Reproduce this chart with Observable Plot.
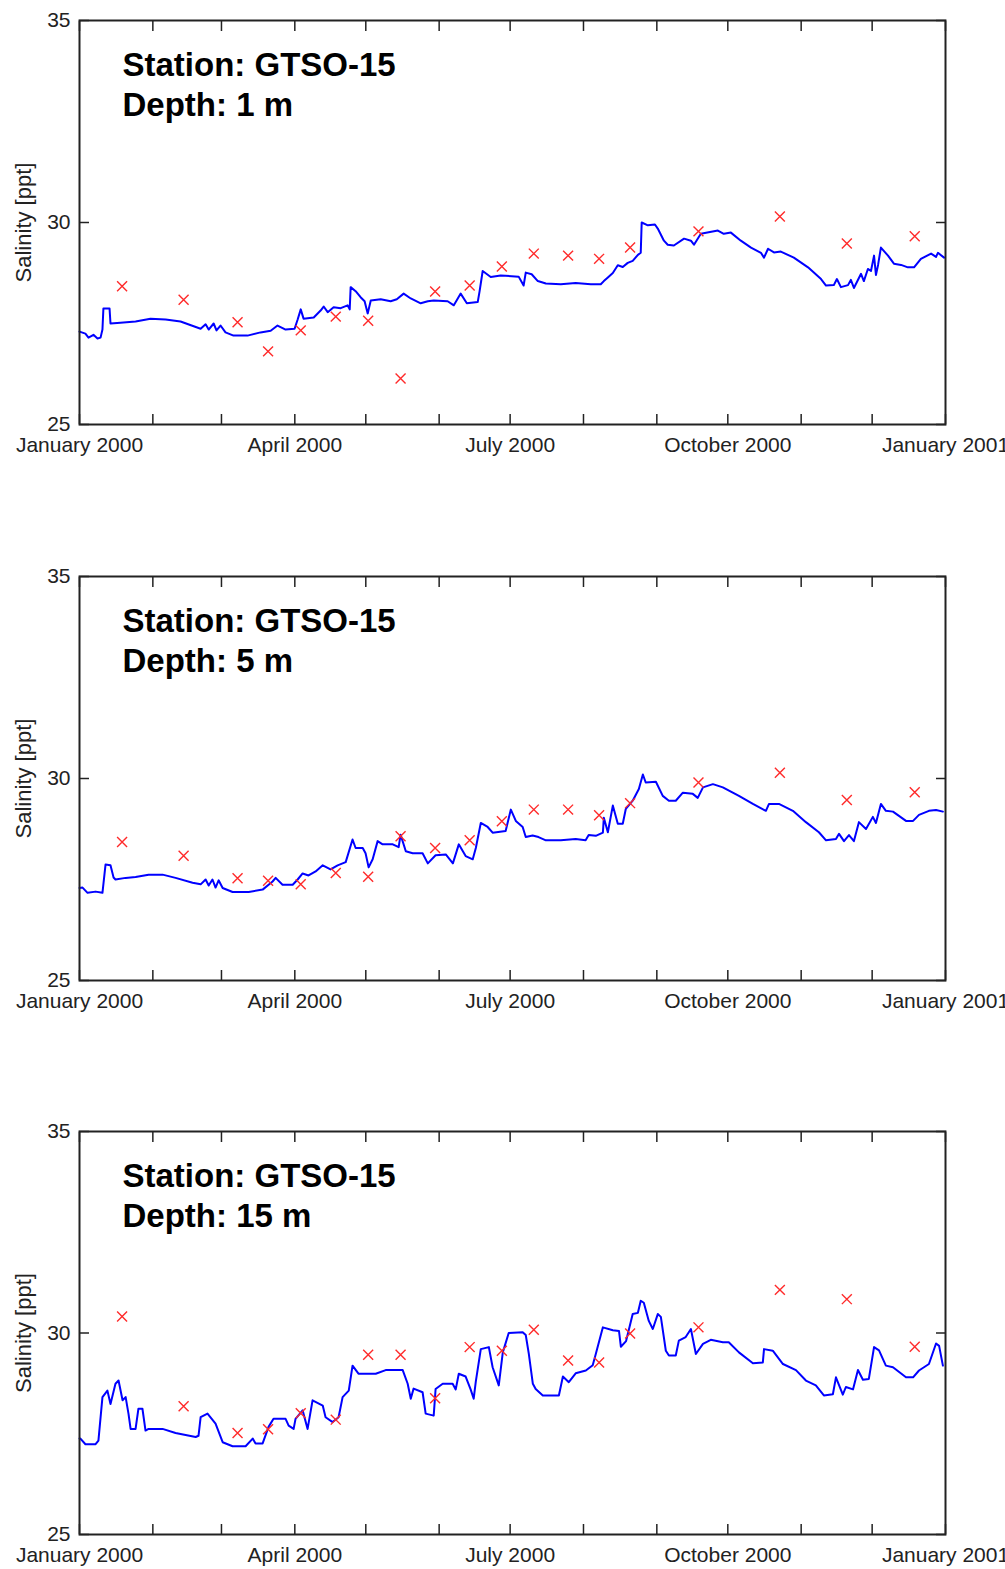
<!DOCTYPE html>
<html><head><meta charset="utf-8">
<script src="https://cdn.jsdelivr.net/npm/d3@7"></script>
<script src="https://cdn.jsdelivr.net/npm/@observablehq/plot@0.6"></script>
<style>
body{margin:0;background:#fff;}
svg{display:block;}
</style></head><body><div id="chart"></div>
<script>
// ---- data ----
const station = "GTSO-15";
const depths = ["1 m", "5 m", "15 m"];
const yLabel = "Salinity [ppt]";
const yTicks = [25, 30, 35];
const startDate = "2000-01-01";
const endDate = "2001-01-01";
const labelTickDates = ["2000-01-01", "2000-04-01", "2000-07-01", "2000-10-01", "2001-01-01"];

// bottle samples: day of year (days since 1 Jan 2000)
const sampleDay = [18, 44, 66.8, 79.7, 93.5, 108.3, 122, 135.7, 150.3, 164.9, 178.5, 192, 206.5, 219.6, 232.7, 261.6, 296, 324.3, 353];
const sample1 = [28.42, 28.09, 27.53, 26.81, 27.33, 27.67, 27.57, 26.14, 28.29, 28.44, 28.91, 29.23, 29.18, 29.10, 29.38, 29.78, 30.15, 29.48, 29.66];
const sample5 = [28.43, 28.09, 27.53, 27.47, 27.38, 27.66, 27.57, 28.57, 28.28, 28.47, 28.94, 29.23, 29.23, 29.09, 29.39, 29.90, 30.14, 29.47, 29.66];
const sample15 = [30.41, 28.18, 27.52, 27.61, 28.01, 27.85, 29.46, 29.46, 28.38, 29.65, 29.56, 30.08, 29.32, 29.27, 29.99, 30.14, 31.07, 30.84, 29.66];

// moored sensor record, depth 1 m
const lineDay1 = [0,2.5,3.8,5.9,7.6,8.9,9.7,10.1,12.7,13.1,17.3,23.7,30.0,36.4,42.7,51.2,53.3,54.6,56.7,57.9,59.6,61.7,65.1,71.0,76.5,80.8,83.7,87.1,90.9,92.2,93.5,94.7,99.0,101.9,103.2,104.9,107.4,110.4,113.3,114.2,114.6,116.7,118.8,120.5,121.8,123.1,127.3,131.5,134.1,137.0,140.0,144.2,147.2,149.7,155.6,158.2,161.1,163.7,168.3,169.1,170.4,173.8,178.0,185.6,187.7,188.6,191.1,193.7,197.1,203.4,209.7,216.1,220.3,221.6,223.3,225.4,227.5,229.6,231.7,233.8,236.0,237.2,237.6,240.2,243.2,244.4,247.0,248.6,251.2,255.5,258.4,259.7,262.6,269.8,272.3,275.3,279.5,283.8,288.0,289.3,291.0,293.5,296.4,301.9,307.9,313.4,315.5,318.8,320.1,321.8,324.8,326.0,327.3,330.3,331.5,333.2,334.5,335.8,336.6,337.5,338.7,341.7,344.2,347.2,350.1,352.7,355.6,359.9,362.0,362.8,365.4];
const lineVal1 = [27.30,27.25,27.15,27.22,27.13,27.15,27.35,27.87,27.87,27.50,27.52,27.55,27.62,27.60,27.55,27.37,27.48,27.35,27.50,27.33,27.45,27.28,27.20,27.20,27.28,27.32,27.45,27.35,27.37,27.60,27.85,27.62,27.65,27.82,27.92,27.78,27.90,27.88,27.95,27.85,28.40,28.30,28.15,28.05,27.75,28.07,28.10,28.05,28.10,28.24,28.12,28.00,28.05,28.07,28.05,27.95,28.24,28.00,28.03,28.30,28.80,28.65,28.69,28.66,28.44,28.76,28.72,28.55,28.49,28.47,28.50,28.47,28.47,28.55,28.64,28.75,28.94,28.90,29.00,29.05,29.20,29.25,30.00,29.93,29.95,29.85,29.55,29.45,29.43,29.60,29.55,29.45,29.72,29.80,29.72,29.75,29.55,29.38,29.25,29.13,29.35,29.26,29.28,29.13,28.89,28.60,28.44,28.45,28.60,28.40,28.45,28.58,28.38,28.73,28.55,28.85,28.80,29.18,28.70,28.95,29.38,29.18,28.98,28.95,28.89,28.89,29.10,29.23,29.15,29.25,29.13];

// depth 5 m
const lineDay5 = [0,1.3,3.4,6.8,9.7,11.0,13.1,14.4,15.2,19.5,23.7,29.2,35.1,40.6,47.8,51.2,53.3,54.6,56.2,57.5,58.8,60.5,64.7,71.5,77.4,81.6,82.9,85.8,90.1,92.2,94.3,96.8,99.8,102.8,106.1,109.1,112.5,115.4,116.7,119.7,120.9,122.2,123.9,126.0,128.1,132.4,134.9,135.7,137.9,140.8,145.0,147.2,150.5,154.8,157.8,160.3,163.2,166.2,167.5,169.6,172.5,174.6,180.1,182.3,184.4,187.3,188.6,191.5,194.0,197.1,203.4,209.7,213.9,215.2,218.2,221.2,221.6,223.3,225.4,227.5,229.6,230.9,233.8,236.4,238.1,239.3,243.6,246.5,249.1,252.0,255.0,259.2,261.3,263.5,267.7,271.9,278.7,284.6,290.1,291.4,295.6,301.5,307.0,312.5,315.5,319.7,321.0,323.1,325.2,327.3,329.4,332.4,335.3,336.6,338.7,340.8,343.8,349.3,352.3,354.8,359.0,362.0,364.9];
const lineVal5 = [27.29,27.30,27.17,27.20,27.17,27.87,27.85,27.55,27.50,27.54,27.56,27.62,27.62,27.54,27.42,27.38,27.50,27.35,27.50,27.30,27.48,27.29,27.19,27.19,27.25,27.45,27.54,27.37,27.37,27.50,27.65,27.60,27.70,27.85,27.75,27.85,27.93,28.49,28.28,28.28,28.15,27.80,28.00,28.45,28.37,28.37,28.30,28.61,28.20,28.15,28.15,27.90,28.10,28.12,27.90,28.37,28.08,28.00,28.28,28.90,28.80,28.66,28.70,29.23,28.95,28.80,28.55,28.59,28.55,28.47,28.47,28.50,28.47,28.60,28.58,28.66,29.03,28.67,29.33,28.88,28.88,29.25,29.45,29.74,30.10,29.90,29.92,29.57,29.45,29.45,29.65,29.62,29.52,29.78,29.86,29.78,29.57,29.37,29.20,29.37,29.37,29.20,28.92,28.67,28.47,28.50,28.63,28.45,28.60,28.45,28.92,28.75,29.05,28.90,29.37,29.20,29.18,28.95,28.95,29.10,29.20,29.22,29.18];

// depth 15 m
const lineDay15 = [0,0.4,2.5,6.8,8.0,9.7,11.8,13.1,15.2,16.5,18.2,19.5,20.7,21.6,23.7,24.9,26.6,27.9,29.2,35.1,40.6,49.1,50.3,51.2,54.1,57.5,60.5,64.7,70.2,73.2,74.4,77.4,79.9,82.0,87.1,88.4,90.5,91.3,94.3,96.4,98.5,102.8,104.0,107.0,109.5,111.2,113.8,115.4,117.9,125.2,129.4,136.6,138.7,140.0,141.2,145.0,146.3,149.7,150.5,153.5,157.7,159.0,160.3,163.2,165.3,166.6,167.5,169.6,173.0,174.6,177.2,178.9,181.4,187.3,188.6,189.9,191.6,192.8,195.8,202.6,204.3,206.8,209.7,214.0,216.9,218.2,221.2,225.4,228.0,228.8,231.0,233.8,236.0,237.2,238.5,240.6,242.3,244.4,245.7,247.8,249.1,252.0,253.3,256.2,258.4,260.5,263.5,266.8,271.9,274.4,278.7,284.6,288.8,289.3,293.0,297.3,302.8,307.0,311.2,314.6,318.4,319.7,322.6,323.9,326.9,329.0,331.1,333.6,335.8,337.9,340.8,343.8,349.3,352.3,354.8,359.0,362.0,363.3,364.9];
const lineVal15 = [27.38,27.38,27.24,27.24,27.33,28.41,28.57,28.24,28.74,28.82,28.33,28.41,28.00,27.62,27.62,28.12,28.12,27.58,27.62,27.62,27.52,27.42,27.45,27.91,28.00,27.75,27.29,27.19,27.19,27.38,27.26,27.26,27.67,27.87,27.87,27.70,27.62,27.87,28.08,27.62,28.33,28.20,27.91,27.79,27.91,28.41,28.57,29.19,28.99,28.99,29.08,29.08,28.74,28.37,28.62,28.53,28.00,27.95,28.61,28.74,28.74,28.60,28.99,28.92,28.60,28.37,28.80,29.60,29.65,29.15,28.70,29.52,30.00,30.02,29.95,29.48,28.74,28.61,28.45,28.45,28.92,28.78,29.00,29.07,29.20,29.48,30.14,30.07,30.05,29.66,29.80,30.47,30.50,30.80,30.75,30.30,30.10,30.47,30.40,29.56,29.44,29.44,29.81,29.90,30.10,29.48,29.73,29.83,29.77,29.77,29.52,29.25,29.27,29.60,29.56,29.23,29.08,28.82,28.70,28.45,28.48,28.90,28.47,28.66,28.60,29.08,28.84,28.86,29.65,29.57,29.19,29.15,28.90,28.90,29.07,29.23,29.74,29.68,29.19];

// ---- chart ----
const base = Date.UTC(2000, 0, 1);
const toDate = d => new Date(base + d * 864e5);
const xDomain = [new Date(startDate), new Date(endDate)];
const monthTicks = d3.utcMonths(new Date(startDate), new Date(Date.UTC(2001, 0, 2)));
const labelTicks = labelTickDates.map(s => new Date(s));
const font = "'Liberation Sans', Arial, Helvetica, sans-serif";

function makePanel(days, vals, samples, depth, height, marginTop, marginBottom) {
  const lineData = days.map((d, i) => ({date: toDate(d), value: vals[i]}));
  const dotData = sampleDay.map((d, i) => ({date: toDate(d), value: samples[i]}));
  return Plot.plot({
    width: 1005, height, marginTop, marginBottom, marginLeft: 79, marginRight: 60,
    style: {fontFamily: font, color: "#222", background: "#fff", overflow: "visible"},
    x: {type: "utc", domain: xDomain},
    y: {domain: [25, 35]},
    marks: [
      Plot.line(lineData, {x: "date", y: "value", stroke: "#0000ff", strokeWidth: 2}),
      Plot.dot(dotData, {x: "date", y: "value", symbol: "times", r: 4.6, stroke: "#ff2a2a", strokeWidth: 1.4}),
      Plot.axisY({anchor: "left", ticks: yTicks, tickSize: -10, tickPadding: 19, fontSize: 21, strokeWidth: 1.5, label: null}),
      Plot.axisY({anchor: "right", ticks: yTicks, tickSize: -10, tickFormat: () => "", strokeWidth: 1.5, label: null}),
      Plot.axisX({anchor: "bottom", ticks: monthTicks, tickSize: -10, tickFormat: () => "", strokeWidth: 1.5, label: null}),
      Plot.axisX({anchor: "top", ticks: monthTicks, tickSize: -10, tickFormat: () => "", strokeWidth: 1.5, label: null}),
      Plot.axisX({anchor: "bottom", ticks: labelTicks, tickSize: 0, tickPadding: 13, tickFormat: d3.utcFormat("%B %Y"), fontSize: 21, label: null}),
      Plot.frame({stroke: "#222", strokeWidth: 2}),
      Plot.text([`Station: ${station}\nDepth: ${depth}`], {frameAnchor: "top-left", textAnchor: "start", lineAnchor: "top", dx: 43, dy: 27, fontSize: 33, fontWeight: "bold", lineHeight: 1.212, fill: "#000"}),
      Plot.text([yLabel], {frameAnchor: "left", textAnchor: "middle", lineAnchor: "middle", rotate: -90, dx: -56, fontSize: 22, fill: "#222"})
    ]
  });
}

const chart = document.getElementById("chart");
chart.append(makePanel(lineDay1, lineVal1, sample1, depths[0], 555, 20, 131));
chart.append(makePanel(lineDay5, lineVal5, sample5, depths[1], 556, 21, 131));
chart.append(makePanel(lineDay15, lineVal15, sample15, depths[2], 458, 20, 35));
</script></body></html>
